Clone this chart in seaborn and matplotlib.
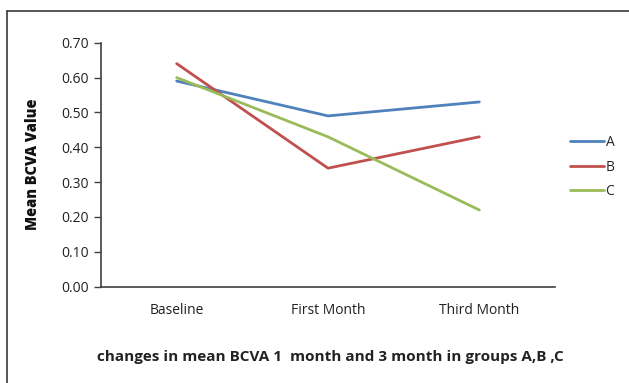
import matplotlib
matplotlib.use("Agg")
import matplotlib.pyplot as plt
from matplotlib.lines import Line2D
import seaborn as sns
import pandas as pd

# Mean BCVA per visit for each group
visits = ["Baseline", "First Month", "Third Month"]
group_a = [0.59, 0.49, 0.53]
group_b = [0.64, 0.34, 0.43]
group_c = [0.60, 0.43, 0.22]
groups = ["A", "B", "C"]
colors = ["#4F81BD", "#C0504D", "#9BBB59"]

df = pd.DataFrame({
    "Visit": visits * 3,
    "BCVA": group_a + group_b + group_c,
    "Group": [g for g in groups for _ in visits],
})

sns.set_theme(style="white")
plt.rcParams["font.family"] = ["Open Sans", "DejaVu Sans"]

fig = plt.figure(figsize=(6.29, 3.83), dpi=100)
ax = fig.add_axes([101 / 629, 1 - 286.7 / 383, (555 - 101) / 629, (286.7 - 42.7) / 383])

sns.lineplot(data=df, x="Visit", y="BCVA", hue="Group", palette=colors,
             sort=False, linewidth=2, ax=ax, legend=False)

ax.set_xlim(-0.5, 2.5)
ax.set_ylim(0, 0.70)
ax.set_yticks([i / 10 for i in range(8)])
ax.set_yticklabels([f"{i / 10:.2f}" for i in range(8)])
ax.tick_params(axis="y", direction="out", length=5, width=1, color="#404040",
               labelsize=10, pad=4, left=True, labelcolor="#222222")
ax.tick_params(axis="x", length=0, labelsize=10, pad=12, labelcolor="#222222")
for side in ["top", "right"]:
    ax.spines[side].set_visible(False)
for side in ["left", "bottom"]:
    ax.spines[side].set_color("#404040")
    ax.spines[side].set_linewidth(1.2)

ax.set_xlabel("changes in mean BCVA 1  month and 3 month in groups A,B ,C",
              fontsize=11, fontweight="bold", color="#222222")
ax.xaxis.set_label_coords(0.505, -0.26)
ax.set_ylabel("Mean BCVA Value", fontsize=10.5, fontweight="heavy", color="#111111")
ax.yaxis.set_label_coords(-0.133, 0.5)

handles = [Line2D([], [], color=c, lw=2) for c in colors]
fig.legend(handles, groups, loc="center left", bbox_to_anchor=(557 / 629, 1 - 167 / 383),
           frameon=False, fontsize=10, handlelength=2.5, handletextpad=0.1,
           labelspacing=0.7)

# Chart-area frame
fig.add_artist(Line2D([7 / 629, 7 / 629], [0, 1 - 11 / 383], color="#3a3a3a", lw=1.2,
                      transform=fig.transFigure))
fig.add_artist(Line2D([7 / 629, 1], [1 - 11 / 383, 1 - 11 / 383], color="#3a3a3a", lw=1.2,
                      transform=fig.transFigure))

fig.savefig("out.png", dpi=100)
